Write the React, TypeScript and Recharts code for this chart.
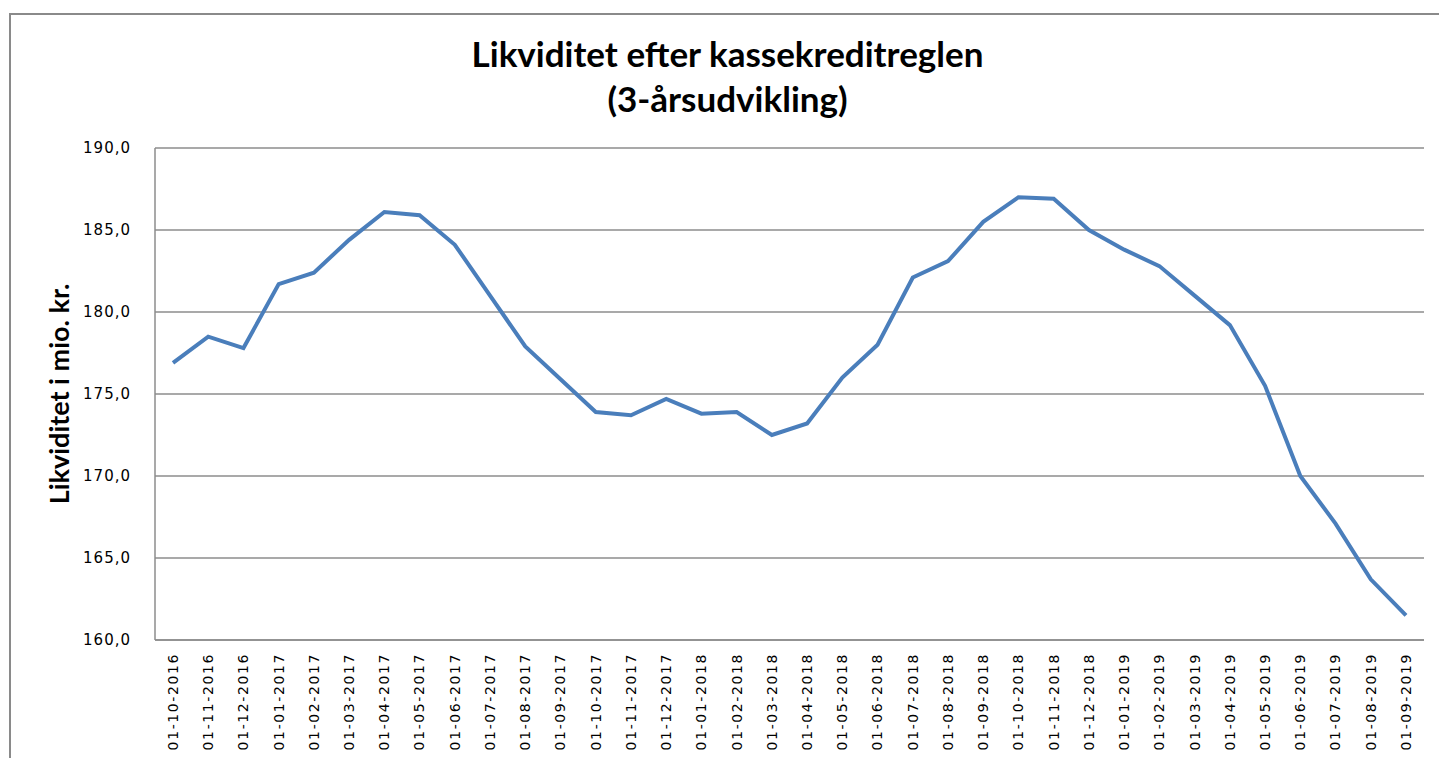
import { LineChart, Line, XAxis, YAxis, CartesianGrid } from "recharts";

// Likviditet efter kassekreditreglen, 3-årsudvikling (mio. kr.)
const months = [
  "01-10-2016", "01-11-2016", "01-12-2016",
  "01-01-2017", "01-02-2017", "01-03-2017", "01-04-2017", "01-05-2017", "01-06-2017",
  "01-07-2017", "01-08-2017", "01-09-2017", "01-10-2017", "01-11-2017", "01-12-2017",
  "01-01-2018", "01-02-2018", "01-03-2018", "01-04-2018", "01-05-2018", "01-06-2018",
  "01-07-2018", "01-08-2018", "01-09-2018", "01-10-2018", "01-11-2018", "01-12-2018",
  "01-01-2019", "01-02-2019", "01-03-2019", "01-04-2019", "01-05-2019", "01-06-2019",
  "01-07-2019", "01-08-2019", "01-09-2019",
];

const liquidity = [
  176.9, 178.5, 177.8,
  181.7, 182.4, 184.4, 186.1, 185.9, 184.1,
  181.0, 177.9, 175.9, 173.9, 173.7, 174.7,
  173.8, 173.9, 172.5, 173.2, 176.0, 178.0,
  182.1, 183.1, 185.5, 187.0, 186.9, 185.0,
  183.8, 182.8, 181.0, 179.2, 175.5, 170.0,
  167.1, 163.7, 161.5,
];

const yTicks = [160, 165, 170, 175, 180, 185, 190];

const data = months.map((m, i) => ({ month: m, value: liquidity[i] }));

const GRID = "#8c8c8c";

const MonthTick = (props: any) => {
  const { x, y, payload } = props;
  return (
    <text
      x={x}
      y={y + 5}
      dy="0.35em"
      transform={`rotate(-90, ${x}, ${y + 5})`}
      textAnchor="end"
      fontFamily="DejaVu Sans"
      fontSize={14}
      letterSpacing={1.6}
      fill="#000"
    >
      {payload.value}
    </text>
  );
};

const YLabel = (props: any) => {
  const cy = props.viewBox.y + props.viewBox.height / 2;
  return (
    <text
      x={60}
      y={cy}
      dy="0.35em"
      transform={`rotate(-90, 60, ${cy})`}
      textAnchor="middle"
      fontFamily="Lato"
      fontWeight="bold"
      fontSize={27}
      fill="#000"
    >
      Likviditet i mio. kr.
    </text>
  );
};

export default function App() {
  return (
    <div style={{ position: "absolute", left: 0, top: 0, width: 1439, height: 758, background: "#fff", overflow: "hidden" }}>
      <div
        style={{
          position: "absolute",
          left: 9,
          top: 13,
          width: 1460,
          height: 800,
          border: "2px solid #8a8a8a",
        }}
      />
      <div
        style={{
          position: "absolute",
          left: 0,
          top: 31,
          width: 1455,
          textAlign: "center",
          fontFamily: "Lato",
          fontWeight: "bold",
          fontSize: 35,
          lineHeight: "45px",
          color: "#000",
        }}
      >
        Likviditet efter kassekreditreglen
        <br />
        (3-årsudvikling)
      </div>
      <div style={{ position: "absolute", left: 0, top: 0 }}>
        <LineChart
          width={1439}
          height={758}
          data={data}
          margin={{ top: 148, right: 15, left: 0, bottom: 0 }}
        >
          <CartesianGrid vertical={false} stroke={GRID} strokeWidth={1.5} />
          <XAxis
            dataKey="month"
            interval={0}
            height={118}
            padding={{ left: 18, right: 18 }}
            axisLine={{ stroke: GRID, strokeWidth: 1.5 }}
            tickLine={false}
            tick={<MonthTick />}
          />
          <YAxis
            width={155}
            domain={[160, 190]}
            ticks={yTicks}
            axisLine={{ stroke: GRID, strokeWidth: 1.5 }}
            tickLine={false}
            tickSize={0}
            tickMargin={24}
            tickFormatter={(v: number) => v.toFixed(1).replace(".", ",")}
            tick={{ fontFamily: "DejaVu Sans", fontSize: 15, fill: "#000", letterSpacing: 1 }}
            label={{ content: <YLabel /> }}
          />
          <Line
            type="linear"
            dataKey="value"
            stroke="#4a7ebb"
            strokeWidth={4}
            dot={false}
            isAnimationActive={false}
          />
        </LineChart>
      </div>
    </div>
  );
}
